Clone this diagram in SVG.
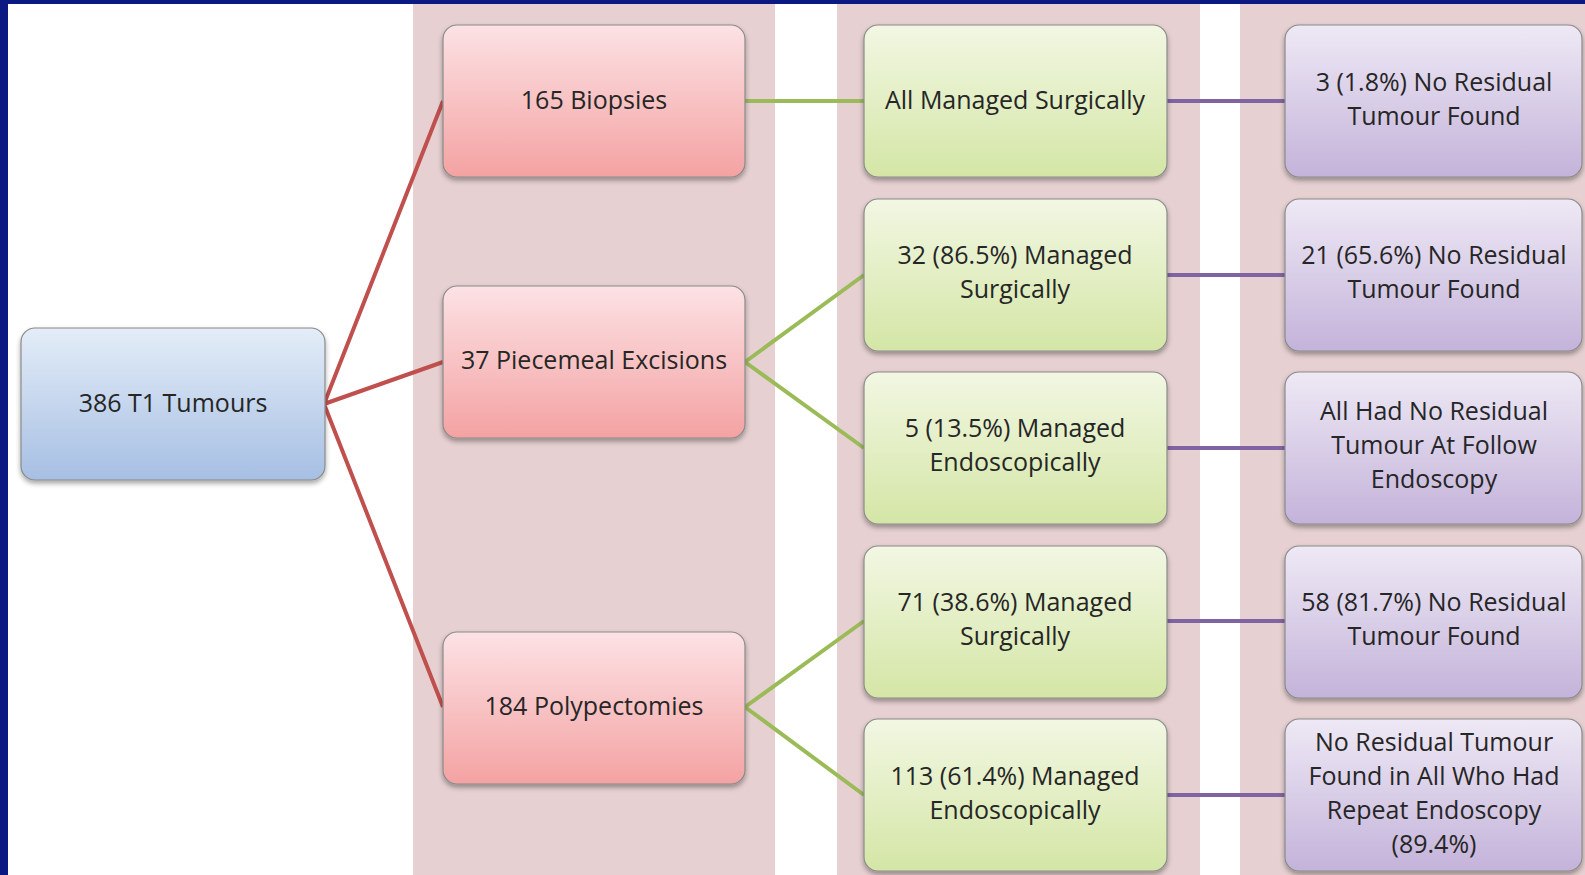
<svg xmlns="http://www.w3.org/2000/svg" width="1585" height="875" viewBox="0 0 1585 875">
<style>
.col{fill:#e6d0d1}
.box{stroke:#8a8a8a;stroke-width:1.2;filter:url(#sh)}
.t{font-family:"Open Sans","Liberation Sans",sans-serif;font-size:25px;fill:#262626;text-anchor:middle}
.red{stroke:#c0504d;stroke-width:4;fill:none}
.grn{stroke:#9bbb59;stroke-width:4;fill:none}
.pur{stroke:#8064a2;stroke-width:4;fill:none}
</style>
<defs>
<linearGradient id="gb" x1="0" y1="0" x2="0" y2="1"><stop offset="0" stop-color="#e4edf8"/><stop offset="1" stop-color="#a6bfe3"/></linearGradient>
<linearGradient id="gr" x1="0" y1="0" x2="0" y2="1"><stop offset="0" stop-color="#fce2e5"/><stop offset="1" stop-color="#f4a2a2"/></linearGradient>
<linearGradient id="gg" x1="0" y1="0" x2="0" y2="1"><stop offset="0" stop-color="#f2f7e3"/><stop offset="1" stop-color="#d4e6a6"/></linearGradient>
<linearGradient id="gp" x1="0" y1="0" x2="0" y2="1"><stop offset="0" stop-color="#eee9f5"/><stop offset="1" stop-color="#c4b3da"/></linearGradient>
<filter id="sh" x="-10%" y="-10%" width="120%" height="130%"><feDropShadow dx="0" dy="3" stdDeviation="2.5" flood-color="#000" flood-opacity="0.35"/></filter>
</defs>
<rect x="0" y="0" width="1585" height="875" fill="#0a1a82"/>
<rect x="8" y="4" width="1577" height="871" fill="#ffffff"/>
<rect class="col" x="413" y="4" width="362" height="871"/>
<rect class="col" x="837" y="4" width="363" height="871"/>
<rect class="col" x="1240" y="4" width="345" height="871"/>
<g id="connectors">
<path class="red" d="M324 404 L443 101 M324 404 L443 362 M324 404 L443 707"/>
<path class="grn" d="M745 101 L864 101 M745 362 L864 275 M745 362 L864 448 M745 707 L864 621 M745 707 L864 795"/>
<path class="pur" d="M1167 101 L1285 101 M1167 275 L1285 275 M1167 448 L1285 448 M1167 621 L1285 621 M1167 795 L1285 795"/>
</g>
<g id="root"><rect class="box" x="21" y="328" width="304" height="152" rx="14" fill="url(#gb)"/><text class="t" x="173" y="412">386 T1 Tumours</text></g>
<g id="biopsies"><rect class="box" x="443" y="25" width="302" height="152" rx="14" fill="url(#gr)"/><text class="t" x="594" y="109">165 Biopsies</text></g>
<g id="piecemeal"><rect class="box" x="443" y="286" width="302" height="152" rx="14" fill="url(#gr)"/><text class="t" x="594" y="369">37 Piecemeal Excisions</text></g>
<g id="polypectomies"><rect class="box" x="443" y="632" width="302" height="152" rx="14" fill="url(#gr)"/><text class="t" x="594" y="715">184 Polypectomies</text></g>
<g id="g1"><rect class="box" x="864" y="25" width="303" height="152" rx="14" fill="url(#gg)"/><text class="t" x="1015" y="109">All Managed Surgically</text></g>
<g id="g2"><rect class="box" x="864" y="199" width="303" height="152" rx="14" fill="url(#gg)"/><text class="t" x="1015" y="264">32 (86.5%) Managed</text><text class="t" x="1015" y="298">Surgically</text></g>
<g id="g3"><rect class="box" x="864" y="372" width="303" height="152" rx="14" fill="url(#gg)"/><text class="t" x="1015" y="437">5 (13.5%) Managed</text><text class="t" x="1015" y="471">Endoscopically</text></g>
<g id="g4"><rect class="box" x="864" y="546" width="303" height="152" rx="14" fill="url(#gg)"/><text class="t" x="1015" y="611">71 (38.6%) Managed</text><text class="t" x="1015" y="645">Surgically</text></g>
<g id="g5"><rect class="box" x="864" y="719" width="303" height="152" rx="14" fill="url(#gg)"/><text class="t" x="1015" y="785">113 (61.4%) Managed</text><text class="t" x="1015" y="819">Endoscopically</text></g>
<g id="p1"><rect class="box" x="1285" y="25" width="297" height="152" rx="14" fill="url(#gp)"/><text class="t" x="1434" y="91">3 (1.8%) No Residual</text><text class="t" x="1434" y="125">Tumour Found</text></g>
<g id="p2"><rect class="box" x="1285" y="199" width="297" height="152" rx="14" fill="url(#gp)"/><text class="t" x="1434" y="264">21 (65.6%) No Residual</text><text class="t" x="1434" y="298">Tumour Found</text></g>
<g id="p3"><rect class="box" x="1285" y="372" width="297" height="152" rx="14" fill="url(#gp)"/><text class="t" x="1434" y="420">All Had No Residual</text><text class="t" x="1434" y="454">Tumour At Follow</text><text class="t" x="1434" y="488">Endoscopy</text></g>
<g id="p4"><rect class="box" x="1285" y="546" width="297" height="152" rx="14" fill="url(#gp)"/><text class="t" x="1434" y="611">58 (81.7%) No Residual</text><text class="t" x="1434" y="645">Tumour Found</text></g>
<g id="p5"><rect class="box" x="1285" y="719" width="297" height="152" rx="14" fill="url(#gp)"/><text class="t" x="1434" y="751">No Residual Tumour</text><text class="t" x="1434" y="785">Found in All Who Had</text><text class="t" x="1434" y="819">Repeat Endoscopy</text><text class="t" x="1434" y="853">(89.4%)</text></g>
</svg>
